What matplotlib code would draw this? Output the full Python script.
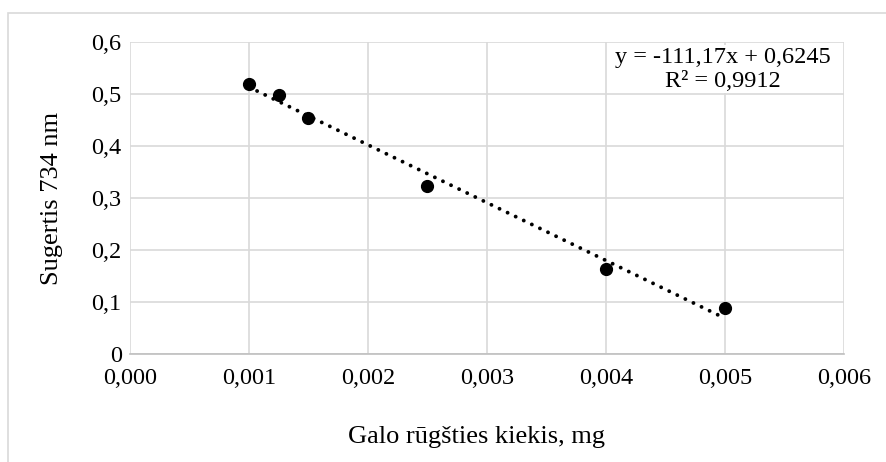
import matplotlib
matplotlib.use("Agg")
import matplotlib.pyplot as plt
from matplotlib.patches import Rectangle
import numpy as np

x_vals = [0.001, 0.00125, 0.0015, 0.0025, 0.004, 0.005]
y_vals = [0.519, 0.499, 0.453, 0.324, 0.163, 0.089]
slope = -111.17
intercept = 0.6245
eq_text = "y = -111,17x + 0,6245\nR² = 0,9912"
x_ticks = [0.000, 0.001, 0.002, 0.003, 0.004, 0.005, 0.006]
x_tick_labels = ["0,000", "0,001", "0,002", "0,003", "0,004", "0,005", "0,006"]
y_ticks = [0, 0.1, 0.2, 0.3, 0.4, 0.5, 0.6]
y_tick_labels = ["0", "0,1", "0,2", "0,3", "0,4", "0,5", "0,6"]
x_label = "Galo rūgšties kiekis, mg"
y_label = "Sugertis 734 nm"

plt.rcParams['font.family'] = ['Liberation Serif', 'DejaVu Serif']
FS = 17.5
LFS = 19

W, H = 887, 462
fig = plt.figure(figsize=(W/100, H/100), dpi=100)
fig.patches.append(Rectangle((8/W, -0.1), 1.2, (H-13)/H + 0.1, transform=fig.transFigure,
                             fill=False, edgecolor='#d9d9d9', linewidth=1.2))

left, right, top, bottom = 130, 844, 42, 354
ax = fig.add_axes([left/W, 1 - bottom/H, (right-left)/W, (bottom-top)/H])
ax.set_xlim(0, 0.006)
ax.set_ylim(0, 0.6)
ax.set_xticks(x_ticks)
ax.set_xticklabels(x_tick_labels)
ax.set_yticks(y_ticks)
ax.set_yticklabels(y_tick_labels)
ax.grid(True, color='#d9d9d9', linewidth=1.2)
ax.set_axisbelow(True)
for s in ['top', 'right', 'left']:
    ax.spines[s].set_visible(False)
ax.spines['bottom'].set_color('#bfbfbf')
ax.spines['bottom'].set_linewidth(1.2)
ax.tick_params(length=0, labelsize=FS, colors='black', pad=10)
ax.tick_params(axis='y', pad=6)

xt = np.array([min(x_vals), max(x_vals)])
ax.plot(xt, slope*xt + intercept, linestyle=(0, (0.01, 2.3)), color='black', linewidth=2.8,
        dash_capstyle='round', solid_capstyle='round', zorder=3)
ax.plot(x_vals, y_vals, 'o', color='black', markersize=8.5, zorder=4)

ax.text(0.8305, 0.985, eq_text, transform=ax.transAxes, ha='center', va='top',
        fontsize=FS, linespacing=1.2,
        bbox=dict(facecolor='white', edgecolor='none', pad=1))

fig.text(477/W, 1 - 437/H, x_label, ha='center', va='center', fontsize=LFS)
fig.text(52/W, 1 - 198/H, y_label, ha='center', va='center', fontsize=LFS, rotation=90)

fig.savefig("out.png", dpi=100)
